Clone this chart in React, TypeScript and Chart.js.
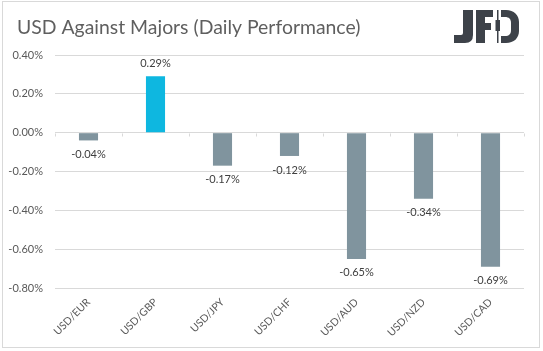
import React, { useEffect, useRef } from "react";
import { Chart, registerables } from "chart.js";

Chart.register(...registerables);

const categories = ["USD/EUR", "USD/GBP", "USD/JPY", "USD/CHF", "USD/AUD", "USD/NZD", "USD/CAD"];
const values = [-0.04, 0.29, -0.17, -0.12, -0.65, -0.34, -0.69];
const yTicks = [0.4, 0.2, 0, -0.2, -0.4, -0.6, -0.8];
const titleText = "USD Against Majors (Daily Performance)";

const FONT = "Lato, 'Open Sans', sans-serif";
const GRAY = "#80949E";
const BLUE = "#0EB7E0";
const TEXT = "#595959";
const GRID = "#D9D9D9";

const decorPlugin = {
  id: "decor",
  beforeDraw(chart: any) {
    const ctx = chart.ctx;
    ctx.save();
    ctx.fillStyle = "#FFFFFF";
    ctx.fillRect(0, 0, chart.width, chart.height);
    ctx.strokeStyle = GRID;
    ctx.lineWidth = 1;
    ctx.strokeRect(2.5, 1.5, 537, 346);
    // title
    ctx.fillStyle = "#5F5F5F";
    ctx.font = `19.4px ${FONT}`;
    ctx.textBaseline = "alphabetic";
    ctx.textAlign = "left";
    ctx.fillText(titleText, 17, 34);
    ctx.restore();
  },
  afterDatasetsDraw(chart: any) {
    const ctx = chart.ctx;
    const meta = chart.getDatasetMeta(0);
    const y = chart.scales.y;
    ctx.save();
    // category tick marks on zero line
    const zy = Math.round(y.getPixelForValue(0)) + 0.5;
    ctx.strokeStyle = GRID;
    ctx.lineWidth = 1;
    const n = categories.length;
    const step = (chart.chartArea.right - chart.chartArea.left) / n;
    for (let i = 0; i <= n; i++) {
      const px = Math.round(chart.chartArea.left + i * step) + 0.5;
      ctx.beginPath();
      ctx.moveTo(px, zy);
      ctx.lineTo(px, zy + 3);
      ctx.stroke();
    }
    // data labels
    ctx.fillStyle = "#404040";
    ctx.font = `11px ${FONT}`;
    ctx.textAlign = "center";
    ctx.textBaseline = "middle";
    meta.data.forEach((bar: any, i: number) => {
      const v = values[i];
      const ty = v >= 0 ? bar.y - 13 : bar.y + 14;
      ctx.fillText(v.toFixed(2) + "%", bar.x, ty);
    });
    ctx.restore();
  },
  afterDraw(chart: any) {
    const ctx = chart.ctx;
    ctx.save();
    ctx.fillStyle = "#3D4249";
    // J
    ctx.beginPath();
    ctx.moveTo(463, 10);
    ctx.lineTo(473, 10);
    ctx.lineTo(473, 35);
    ctx.quadraticCurveTo(473, 43, 465, 43);
    ctx.lineTo(454, 43);
    ctx.lineTo(454, 35);
    ctx.lineTo(461, 35);
    ctx.quadraticCurveTo(463, 35, 463, 33);
    ctx.closePath();
    ctx.fill();
    // F
    ctx.fillRect(476, 10, 9, 33);
    ctx.fillRect(476, 10, 17, 7);
    ctx.fillRect(476, 23, 15, 7);
    // candle
    ctx.fillRect(497, 10, 1.5, 33);
    ctx.fillRect(495.5, 20, 4.5, 11);
    // D
    ctx.beginPath();
    ctx.moveTo(501, 10);
    ctx.lineTo(506, 10);
    ctx.bezierCurveTo(514, 10, 519, 15, 519, 22);
    ctx.lineTo(519, 31);
    ctx.bezierCurveTo(519, 38, 514, 43, 506, 43);
    ctx.lineTo(501, 43);
    ctx.closePath();
    ctx.moveTo(501, 17);
    ctx.lineTo(505, 17);
    ctx.bezierCurveTo(509, 17, 511, 19, 511, 23);
    ctx.lineTo(511, 30);
    ctx.bezierCurveTo(511, 34, 509, 36, 505, 36);
    ctx.lineTo(501, 36);
    ctx.closePath();
    ctx.fill("evenodd");
    ctx.restore();
  },
};

export default function App() {
  const ref = useRef<HTMLCanvasElement | null>(null);
  useEffect(() => {
    if (!ref.current) return;
    const chart = new Chart(ref.current, {
      type: "bar",
      data: {
        labels: categories,
        datasets: [
          {
            data: values,
            backgroundColor: values.map((v) => (v >= 0 ? BLUE : GRAY)),
            categoryPercentage: 0.285,
            barPercentage: 1,
          },
        ],
      },
      options: {
        responsive: false,
        animation: false,
        layout: { padding: { top: 55, right: 19, left: 0, bottom: 0 } },
        plugins: { legend: { display: false }, tooltip: { enabled: false }, title: { display: false } },
        scales: {
          x: {
            grid: { display: false, drawTicks: false },
            border: { display: false },
            ticks: {
              color: TEXT,
              font: { family: FONT, size: 10.5 },
              maxRotation: 45,
              minRotation: 45,
              padding: 8,
            },
            afterFit: (s: any) => {
              s.height = 63;
            },
          },
          y: {
            min: -0.8,
            max: 0.4,
            afterBuildTicks: (s: any) => {
              s.ticks = yTicks.map((v) => ({ value: v }));
            },
            grid: { color: GRID, drawTicks: false },
            border: { display: false },
            ticks: {
              color: TEXT,
              font: { family: FONT, size: 11 },
              padding: 12,
              callback: (v: any) => Number(v).toFixed(2) + "%",
            },
            afterFit: (s: any) => {
              s.width = 55;
            },
          },
        },
      },
      plugins: [decorPlugin],
    });
    return () => chart.destroy();
  }, []);
  return (
    <div style={{ position: "fixed", left: 0, top: 0, width: 543, height: 351 }}>
      <canvas ref={ref} width={543} height={351} style={{ display: "block" }} />
    </div>
  );
}
